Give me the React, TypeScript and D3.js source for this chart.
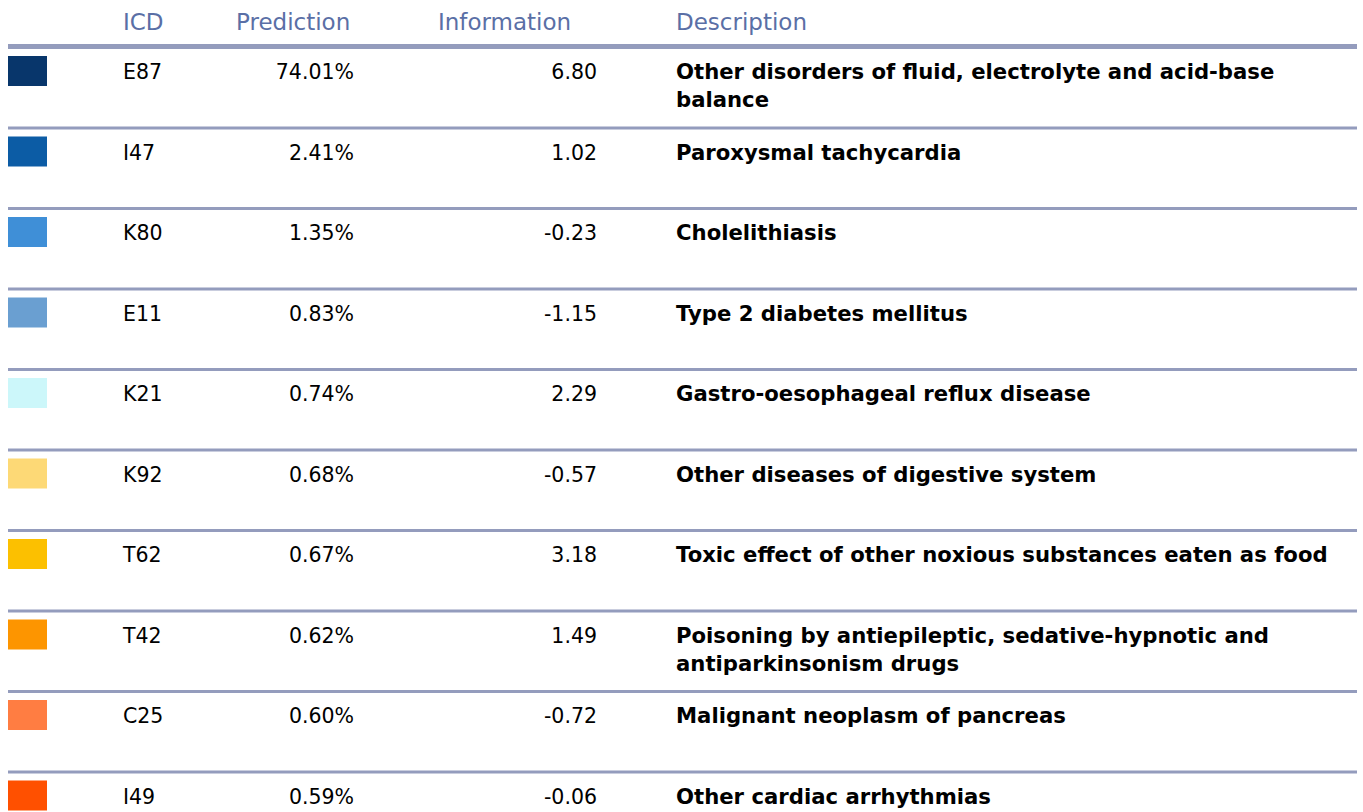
import { useEffect, useRef } from "react";
import * as d3 from "d3";

const codes = ["E87", "I47", "K80", "E11", "K21", "K92", "T62", "T42", "C25", "I49"];
const predictions = [74.01, 2.41, 1.35, 0.83, 0.74, 0.68, 0.67, 0.62, 0.6, 0.59];
const information = [6.8, 1.02, -0.23, -1.15, 2.29, -0.57, 3.18, 1.49, -0.72, -0.06];
const descriptions = [
  "Other disorders of fluid, electrolyte and acid-base balance",
  "Paroxysmal tachycardia",
  "Cholelithiasis",
  "Type 2 diabetes mellitus",
  "Gastro-oesophageal reflux disease",
  "Other diseases of digestive system",
  "Toxic effect of other noxious substances eaten as food",
  "Poisoning by antiepileptic, sedative-hypnotic and antiparkinsonism drugs",
  "Malignant neoplasm of pancreas",
  "Other cardiac arrhythmias",
];
const swatchColors = [
  "#08366b", "#0c5ca5", "#3f8fd7", "#6a9fd1", "#ccf7fa",
  "#fdd976", "#fcc000", "#fd9500", "#ff7d42", "#ff5000",
];
const headers = ["ICD", "Prediction", "Information", "Description"];

export default function App() {
  const svgRef = useRef<SVGSVGElement>(null);

  useEffect(() => {
    if (!svgRef.current) return;
    const svg = d3.select(svgRef.current);
    svg.selectAll("*").remove();

    const left = 8;
    const right = 1357;
    const headerLineY = 46.5;
    const rowH = 80.5;
    const top = 49;
    const font = "DejaVu Sans, sans-serif";
    const lineColor = "#949cbd";

    const y = d3
      .scaleBand()
      .domain(codes)
      .range([top, top + rowH * codes.length])
      .padding(0);

    // column anchors
    const col = { icd: 123, pred: 354, info: 597, desc: 676 };

    // Header
    const hx = [col.icd, 236, 438, col.desc];
    svg
      .selectAll(".hdr")
      .data(headers)
      .join("text")
      .attr("class", "hdr")
      .attr("x", (_, i) => hx[i])
      .attr("y", 30)
      .attr("font-family", font)
      .attr("font-size", 23)
      .attr("fill", "#5a6fa6")
      .text((d) => d);

    svg
      .append("line")
      .attr("x1", left)
      .attr("x2", right)
      .attr("y1", headerLineY)
      .attr("y2", headerLineY)
      .attr("stroke", lineColor)
      .attr("stroke-width", 5);

    const rows = svg
      .selectAll(".row")
      .data(codes)
      .join("g")
      .attr("class", "row")
      .attr("transform", (d) => `translate(0,${y(d)})`);

    rows
      .append("rect")
      .attr("x", left)
      .attr("y", 7)
      .attr("width", 39)
      .attr("height", 30)
      .attr("fill", (_, i) => swatchColors[i]);

    const bodyText = (sel: any) =>
      sel.attr("font-family", font).attr("font-size", 20.5).attr("fill", "#000");

    rows
      .append("text")
      .attr("x", col.icd)
      .attr("y", 30)
      .call(bodyText)
      .text((d) => d);

    rows
      .append("text")
      .attr("x", col.pred)
      .attr("y", 30)
      .attr("text-anchor", "end")
      .call(bodyText)
      .text((_, i) => `${predictions[i].toFixed(2)}%`);

    rows
      .append("text")
      .attr("x", col.info)
      .attr("y", 30)
      .attr("text-anchor", "end")
      .call(bodyText)
      .text((_, i) => information[i].toFixed(2));

    // Description, wrapped
    const maxW = 670;
    rows.each(function (_, i) {
      const t = d3
        .select(this)
        .append("text")
        .attr("x", col.desc)
        .attr("y", 30)
        .call(bodyText)
        .attr("font-size", 21.2)
        .attr("font-weight", "bold");
      const words = descriptions[i].split(" ");
      let line: string[] = [];
      let tspan = t.append("tspan").attr("x", col.desc).attr("dy", 0);
      for (const w of words) {
        line.push(w);
        tspan.text(line.join(" "));
        const node = tspan.node() as SVGTSpanElement;
        if (node.getComputedTextLength() > maxW && line.length > 1) {
          line.pop();
          tspan.text(line.join(" "));
          line = [w];
          tspan = t.append("tspan").attr("x", col.desc).attr("dy", 28).text(w);
        }
      }
    });

    rows
      .filter((_, i) => i < codes.length - 1)
      .append("line")
      .attr("x1", left)
      .attr("x2", right)
      .attr("y1", rowH - 1.5)
      .attr("y2", rowH - 1.5)
      .attr("stroke", lineColor)
      .attr("stroke-width", 3);
  }, []);

  return (
    <svg
      ref={svgRef}
      width={1363}
      height={812}
      style={{ position: "absolute", left: 0, top: 0, display: "block", background: "#fff" }}
    />
  );
}
